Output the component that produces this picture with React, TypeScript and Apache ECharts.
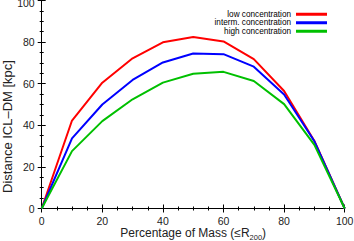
import React, { useEffect, useRef } from "react";
import * as echarts from "echarts";

const massPercent = [0, 10, 20, 30, 40, 50, 60, 70, 80, 90, 100];
const lowConc = [0, 42.3, 60.5, 72.2, 79.9, 82.5, 80.3, 71.8, 56.5, 32.5, 0];
const intermConc = [0, 33.7, 50, 61.8, 70.2, 74.5, 74.2, 68.2, 54.8, 32.3, 0];
const highConc = [0, 27.6, 42, 52.5, 60.5, 64.8, 65.7, 61.3, 50.2, 30.6, 0];
const seriesNames = ["low concentration", "interm. concentration", "high concentration"];
const seriesColors = ["#ff0000", "#0000ff", "#00c000"];
const xTitle = "Percentage of Mass (≤R";
const xTitleSub = "200";
const yTitle = "Distance ICL–DM [kpc]";

const FONT = "Liberation Sans, Arial, sans-serif";

export default function App() {
  const ref = useRef<HTMLDivElement>(null);
  useEffect(() => {
    if (!ref.current) return;
    const chart = echarts.init(ref.current, undefined, { renderer: "svg" });
    const axisCommon = {
      type: "value" as const,
      min: 0,
      max: 100,
      interval: 20,
      axisLine: { show: true, lineStyle: { color: "#000", width: 1 } },
      axisTick: { show: true, inside: true, length: 4, lineStyle: { color: "#000" } },
      minorTick: { show: true, splitNumber: 4, length: 2, lineStyle: { color: "#000" } },
      splitLine: { show: false },
    };
    const mk = (vals: number[], i: number) => ({
      name: seriesNames[i],
      type: "line",
      data: massPercent.map((x, j) => [x, vals[j]]),
      showSymbol: false,
      symbol: "none",
      lineStyle: { color: seriesColors[i], width: 2 },
      itemStyle: { color: seriesColors[i] },
    });
    chart.setOption({
      animation: false,
      textStyle: { fontFamily: FONT },
      grid: {
        left: 41.7,
        right: 9.3,
        top: 0.5,
        bottom: 32.5,
        containLabel: false,
        outerBoundsMode: "none",
      },
      xAxis: [
        {
          ...axisCommon,
          position: "bottom",
          axisLabel: { show: true, color: "#222", fontSize: 10.5, fontFamily: FONT, margin: 7 },
        },
        { ...axisCommon, position: "top", axisLabel: { show: false } },
      ],
      yAxis: [
        {
          ...axisCommon,
          position: "left",
          axisLabel: {
            show: true,
            color: "#222",
            fontSize: 10.5,
            fontFamily: FONT,
            margin: 7,
            formatter: (v: number) => (v === 100 ? "{t|100}" : String(v)),
            rich: { t: { fontSize: 10.5, color: "#222", fontFamily: FONT, padding: [5, 0, 0, 0] } },
          },
        },
        { ...axisCommon, position: "right", axisLabel: { show: false } },
      ],
      graphic: [
        {
          type: "text",
          x: 7.5,
          y: 126.5,
          rotation: Math.PI / 2,
          style: {
            text: yTitle,
            fontSize: 13,
            fontFamily: FONT,
            fill: "#222",
            align: "center",
            verticalAlign: "middle",
          },
        },
        {
          type: "text",
          x: 193.2,
          y: 233,
          style: {
            text: `{a|${xTitle}}{s|${xTitleSub}}{a|)}`,
            align: "center",
            verticalAlign: "middle",
            fill: "#222",
            rich: {
              a: { fontSize: 12, lineHeight: 16, fill: "#222", fontFamily: FONT, verticalAlign: "middle" },
              s: { fontSize: 7.5, lineHeight: 16, fill: "#222", fontFamily: FONT, verticalAlign: "bottom" },
            },
          },
        },
      ],
      legend: {
        orient: "vertical",
        right: 22,
        top: 5,
        align: "right",
        icon: "rect",
        itemWidth: 31,
        itemHeight: 3,
        itemGap: 0,
        textStyle: { fontSize: 8.2, lineHeight: 8.5, color: "#000", fontFamily: FONT },
        data: seriesNames,
      },
      series: [mk(lowConc, 0), mk(intermConc, 1), mk(highConc, 2)],
    });
    return () => chart.dispose();
  }, []);
  return <div ref={ref} style={{ width: 354, height: 241, position: "absolute", left: 0, top: 0 }} />;
}
